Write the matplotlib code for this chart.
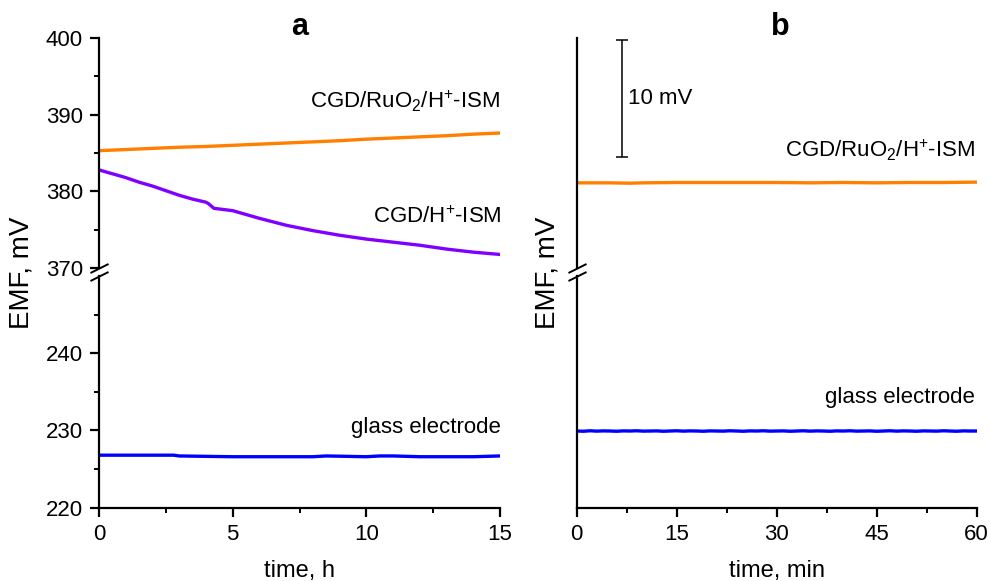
import matplotlib
matplotlib.use("Agg")
import matplotlib.pyplot as plt

plt.rcParams['font.family'] = ['Liberation Sans', 'DejaVu Sans']
plt.rcParams['mathtext.fontset'] = 'custom'
plt.rcParams['mathtext.rm'] = 'Liberation Sans'
plt.rcParams['mathtext.it'] = 'Liberation Sans:italic'

# panel a: long-term drift (hours)
t_orange_a = [0, 1, 2, 3, 4, 5, 6, 7, 8, 9, 10, 11, 12, 13, 14, 15]
emf_orange_a = [385.3, 385.45, 385.6, 385.75, 385.85, 386.0, 386.15, 386.3,
                386.45, 386.6, 386.8, 386.95, 387.1, 387.25, 387.45, 387.6]

t_purple_a = [0, 0.5, 1, 1.5, 2, 2.5, 3, 3.5, 4.0, 4.1, 4.3, 5, 6, 7, 8,
              9, 10, 11, 12, 13, 14, 15]
emf_purple_a = [382.8, 382.3, 381.8, 381.2, 380.7, 380.1, 379.5, 379.0,
                378.6, 378.4, 377.8, 377.5, 376.5, 375.6, 374.9, 374.3,
                373.8, 373.4, 373.0, 372.5, 372.1, 371.8]

t_blue_a = [0, 2, 2.8, 3, 5, 8, 8.5, 10, 10.5, 11, 12, 13, 14, 15]
emf_blue_a = [226.8, 226.8, 226.8, 226.7, 226.6, 226.6, 226.7, 226.6,
              226.7, 226.7, 226.6, 226.6, 226.6, 226.7]

# panel b: short-term (minutes)
t_orange_b = [0, 5, 8, 10, 15, 20, 30, 35, 40, 45, 50, 55, 60]
emf_orange_b = [382.3, 382.3, 382.27, 382.3, 382.33, 382.33, 382.33, 382.3,
                382.33, 382.3, 382.33, 382.33, 382.36]

t_blue_b = [0, 1, 2, 3, 4, 5, 6, 7, 8, 9, 10, 11, 12, 13, 14, 15, 16, 17, 18,
            19, 20, 21, 22, 23, 24, 25, 26, 27, 28, 29, 30, 31, 32, 33, 34, 35,
            36, 37, 38, 39, 40, 41, 42, 43, 44, 45, 46, 47, 48, 49, 50, 51, 52,
            53, 54, 55, 56, 57, 58, 59, 60]
emf_blue_b = [226.80, 226.78, 226.82, 226.79, 226.81, 226.80, 226.78, 226.81,
              226.80, 226.82, 226.79, 226.80, 226.81, 226.78, 226.80, 226.82,
              226.79, 226.81, 226.80, 226.78, 226.81, 226.80, 226.79, 226.82,
              226.80, 226.78, 226.81, 226.80, 226.82, 226.79, 226.80, 226.81,
              226.78, 226.80, 226.82, 226.79, 226.81, 226.80, 226.78, 226.81,
              226.80, 226.82, 226.79, 226.80, 226.81, 226.78, 226.80, 226.82,
              226.79, 226.81, 226.80, 226.78, 226.81, 226.80, 226.79, 226.82,
              226.80, 226.78, 226.81, 226.80, 226.80]

c_orange = '#ff8000'
c_purple = '#8000ff'
c_blue = '#0000ff'

W, H = 991, 581
fig = plt.figure(figsize=(W / 100, H / 100), dpi=100)


def box(x0, x1, y_top, y_bot):
    return [x0 / W, 1 - y_bot / H, (x1 - x0) / W, (y_bot - y_top) / H]


axa_top = fig.add_axes(box(99, 500, 37.7, 268.3))
axa_bot = fig.add_axes(box(99, 500, 276, 507.7))
axb_top = fig.add_axes(box(576.7, 976.7, 37.7, 268.3))
axb_bot = fig.add_axes(box(576.7, 976.7, 276, 507.7))

for ax in [axa_top, axa_bot, axb_top, axb_bot]:
    for s in ['top', 'right']:
        ax.spines[s].set_visible(False)
    for s in ['left', 'bottom']:
        ax.spines[s].set_linewidth(1.6)
    ax.tick_params(which='major', direction='out', length=6.5, width=1.6,
                   labelsize=16, pad=5)
    ax.tick_params(which='minor', direction='out', length=3.5, width=1.4)

for ax in [axa_top, axb_top]:
    ax.spines['bottom'].set_visible(False)
    ax.tick_params(axis='x', which='both', bottom=False, labelbottom=False)

lw = 2.4
axa_top.plot(t_orange_a, emf_orange_a, color=c_orange, lw=lw)
axa_top.plot(t_purple_a, emf_purple_a, color=c_purple, lw=lw)
axa_bot.plot(t_blue_a, emf_blue_a, color=c_blue, lw=lw)
axb_top.plot(t_orange_b, emf_orange_b, color=c_orange, lw=lw)
axb_bot.plot(t_blue_b, emf_blue_b, color=c_blue, lw=lw)

for ax in [axa_top, axa_bot]:
    ax.set_xlim(0, 15)
axa_top.set_ylim(370, 400)
axa_bot.set_ylim(220, 250)
axa_top.set_yticks([370, 380, 390, 400])
axa_top.set_yticks([375, 385, 395], minor=True)
axa_bot.set_yticks([220, 230, 240])
axa_bot.set_yticks([225, 235, 245], minor=True)
axa_bot.set_xticks([0, 5, 10, 15])
axa_bot.set_xticks([2.5, 7.5, 12.5], minor=True)

for ax in [axb_top, axb_bot]:
    ax.set_xlim(0, 60)
    ax.tick_params(axis='y', which='both', left=False, labelleft=False)
axb_top.set_ylim(375, 394.7)
axb_bot.set_ylim(220.28, 239.98)
axb_bot.set_xticks([0, 15, 30, 45, 60])
axb_bot.set_xticks([7.5, 22.5, 37.5, 52.5], minor=True)

# break marks on the y axis
kw = dict(marker=[(-1, -0.5), (1, 0.5)], markersize=13, linestyle='none',
          color='k', mec='k', mew=1.4, clip_on=False)
for top, bot in [(axa_top, axa_bot), (axb_top, axb_bot)]:
    top.plot([0], [0], transform=top.transAxes, **kw)
    bot.plot([0], [1], transform=bot.transAxes, **kw)

# scale bar 10 mV in panel b
axb_top.errorbar([6.75], [389.5], yerr=[[5], [5]], color='k', lw=1.1,
                 capsize=4, capthick=1.1)
axb_top.text(7.7, 389.5, '10 mV', fontsize=16, va='center', ha='left')

# curve labels
ism_ru = r'CGD/RuO$_2$/H$^{\!+}\!$-ISM'
axa_top.text(15, 390.8, ism_ru, fontsize=16, ha='right', va='baseline')
axa_top.text(15.05, 375.9, r'CGD/H$^{\!+}\!$-ISM', fontsize=16, ha='right', va='baseline')
axa_bot.text(15.05, 229.7, 'glass electrode', fontsize=16, ha='right', va='baseline')
axb_top.text(59.7, 384.5, ism_ru, fontsize=16, ha='right', va='baseline')
axb_bot.text(59.7, 229.2, 'glass electrode', fontsize=16, ha='right', va='baseline')

# panel letters and axis labels
fig.text(299.5 / W, 1 - 27 / H, 'a', fontsize=22, fontweight='bold',
         ha='center', va='center')
fig.text(780 / W, 1 - 27 / H, 'b', fontsize=22, fontweight='bold',
         ha='center', va='center')
fig.text(22 / W, 1 - 272.7 / H, 'EMF, mV', fontsize=20, rotation=90,
         ha='center', va='center')
fig.text(548 / W, 1 - 272.7 / H, 'EMF, mV', fontsize=20, rotation=90,
         ha='center', va='center')
axa_bot.set_xlabel('time, h', fontsize=17, labelpad=11)
axb_bot.set_xlabel('time, min', fontsize=17, labelpad=11)

fig.savefig('out.png', dpi=100)
